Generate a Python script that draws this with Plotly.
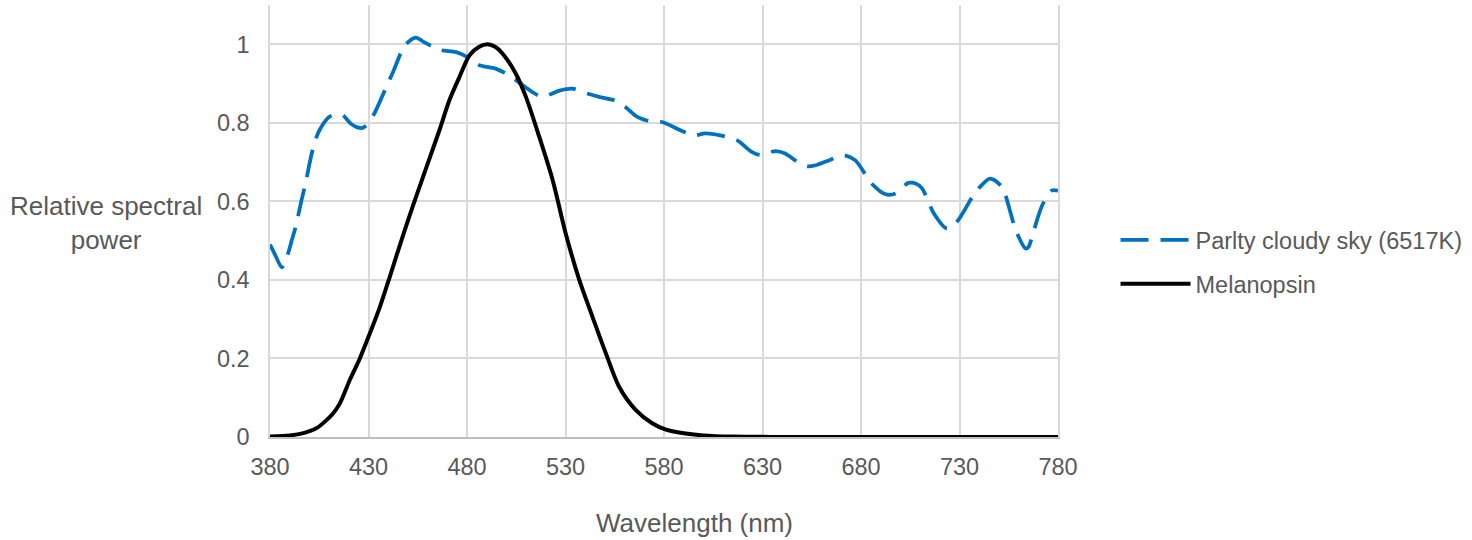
import plotly.graph_objects as go

sky_wl = [380, 382.5, 386, 389, 391, 393, 396, 398, 401, 403, 405.5, 410, 414, 417, 421, 424, 427, 429,
          433, 439, 442.5, 448.5, 454, 458, 463, 467, 474.5, 480, 486, 494.5, 500, 505, 513, 518, 522,
          527, 533.5, 540, 547, 555.5, 561, 566.5, 574, 579, 587.5, 595, 601, 608.5, 617, 624.5, 629,
          636.5, 641.5, 649, 653, 657, 664, 670.5, 677, 685.5, 692.5, 697.5, 704, 708, 711, 717, 723.5,
          728, 732, 736.5, 741, 745.5, 751.5, 756, 758.5, 763.5, 765, 767.5, 772, 777, 780]
sky_val = [0.49, 0.465, 0.432, 0.465, 0.50, 0.535, 0.603, 0.645, 0.718, 0.756, 0.785, 0.815, 0.822, 0.819,
           0.798, 0.789, 0.787, 0.794, 0.824, 0.891, 0.93, 0.997, 1.017, 1.006, 0.993, 0.985, 0.98, 0.968,
           0.947, 0.938, 0.925, 0.908, 0.879, 0.866, 0.872, 0.882, 0.887, 0.876, 0.866, 0.856, 0.838, 0.815,
           0.802, 0.802, 0.783, 0.768, 0.773, 0.768, 0.756, 0.726, 0.718, 0.728, 0.722, 0.696, 0.689, 0.692,
           0.705, 0.718, 0.705, 0.645, 0.618, 0.62, 0.647, 0.645, 0.633, 0.569, 0.531, 0.544, 0.573, 0.611,
           0.64, 0.658, 0.637, 0.569, 0.527, 0.48, 0.484, 0.522, 0.59, 0.628, 0.627]

mel_wl = [380, 390, 397, 403.5, 408.7, 412, 415.4, 420.5, 425.6, 430, 435.7, 440.8, 448.4, 455.9, 466,
          471.1, 476.2, 481.3, 486, 490.5, 494.5, 498.1, 504.8, 509.9, 516.7, 523.5, 530, 537, 543.7,
          550.5, 557.2, 565.6, 574, 581, 591, 600, 615, 640, 700, 780]
mel_val = [0.001, 0.004, 0.01, 0.022, 0.043, 0.06, 0.085, 0.145, 0.2, 0.255, 0.33, 0.408, 0.527, 0.637,
           0.781, 0.858, 0.917, 0.972, 0.993, 1.0, 0.993, 0.976, 0.925, 0.866, 0.764, 0.654, 0.52, 0.40,
           0.306, 0.213, 0.128, 0.069, 0.035, 0.019, 0.009, 0.004, 0.001, 0.0002, 0.0, 0.0]

x_ticks = [380, 430, 480, 530, 580, 630, 680, 730, 780]
y_ticks = [0, 0.2, 0.4, 0.6, 0.8, 1]
y_ticklabels = ["0", "0.2", "0.4", "0.6", "0.8", "1"]

sky_name = "Parlty cloudy sky (6517K)"
mel_name = "Melanopsin"
x_title = "Wavelength (nm)"
y_title = "Relative spectral<br>power"

FONT = "Liberation Sans, Arial, sans-serif"
TXT = "#595959"
GRID = "#D9D9D9"

fig = go.Figure()
fig.add_trace(go.Scatter(x=sky_wl, y=sky_val, mode="lines", name=sky_name,
                         line=dict(color="#0070C0", width=3.75, dash="28px,12px", shape="spline", smoothing=0.8),
                         legend="legend"))
fig.add_trace(go.Scatter(x=mel_wl, y=mel_val, mode="lines", name=mel_name,
                         line=dict(color="#000000", width=4, shape="spline", smoothing=0.8),
                         legend="legend2"))

legend_common = dict(font=dict(family=FONT, size=23.5, color=TXT), bgcolor="rgba(0,0,0,0)",
                     itemwidth=70, xanchor="left", yanchor="middle", x=1.073)

fig.update_layout(
    width=1472, height=540,
    margin=dict(l=270, r=412, t=5, b=103),
    paper_bgcolor="white", plot_bgcolor="white",
    font=dict(family=FONT, color=TXT, size=23.5),
    showlegend=True,
    legend=dict(**legend_common, y=(437 - 240) / 432),
    legend2=dict(**legend_common, y=(437 - 284) / 432),
    xaxis=dict(range=[380, 780], tickmode="array", tickvals=x_ticks, showgrid=True, gridcolor=GRID,
               gridwidth=1.5, showline=True, linecolor="#BFBFBF", linewidth=1.5, zeroline=False,
               ticks="", tickfont=dict(family=FONT, size=23.5, color=TXT), ticklabelstandoff=8),
    yaxis=dict(range=[0, 1.1], tickmode="array", tickvals=y_ticks, ticktext=y_ticklabels, showgrid=True,
               gridcolor=GRID, gridwidth=1.5, showline=True, linecolor=GRID, linewidth=1.5, mirror=True,
               zeroline=False, ticks="", tickfont=dict(family=FONT, size=23.5, color=TXT),
               ticklabelstandoff=14),
    annotations=[
        dict(text=y_title, xref="paper", yref="paper", x=(106 - 270) / 790, y=(437 - 223) / 432,
             xanchor="center", yanchor="middle", showarrow=False,
             font=dict(family=FONT, size=26, color=TXT), align="center"),
        dict(text=x_title, xref="paper", yref="paper", x=(696 - 270) / 790, y=(437 - 523) / 432,
             xanchor="center", yanchor="middle", showarrow=False,
             font=dict(family=FONT, size=26, color=TXT)),
    ],
)

fig.write_html("out.html")
